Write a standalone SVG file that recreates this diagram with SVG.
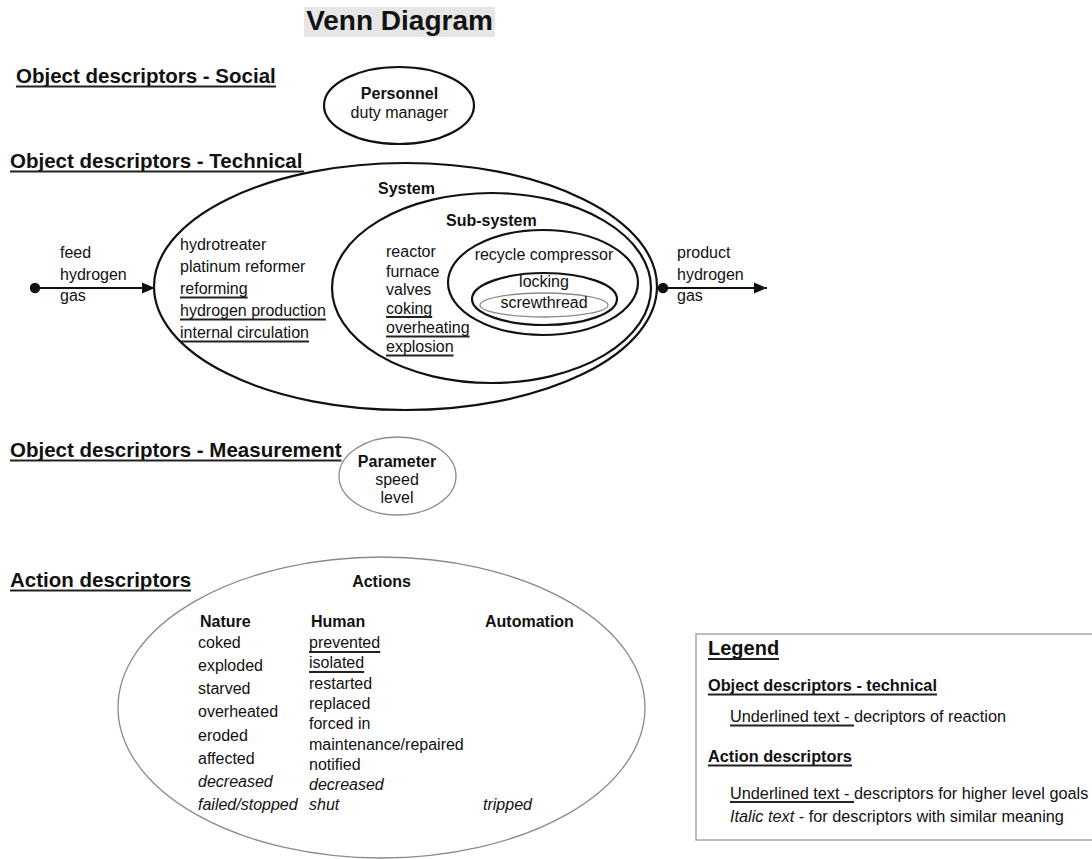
<svg xmlns="http://www.w3.org/2000/svg" width="1092" height="859" viewBox="0 0 1092 859">
<style>
text{font-family:"Liberation Sans",Arial,sans-serif;fill:#111;}
.h{font-size:20.5px;font-weight:bold;}
.b{font-size:16px;font-weight:bold;}
.t{font-size:16px;}
.i{font-size:16px;font-style:italic;}
.lg{font-size:16.3px;}
.lgb{font-size:16.3px;font-weight:bold;}
.ul{stroke:#222;stroke-width:1.8;fill:none;}
.hul{stroke:#222;stroke-width:2.2;fill:none;}
.blk{fill:none;stroke:#111;stroke-width:2.2;}
.gry{fill:none;stroke:#8a8a8a;stroke-width:1.3;}
.c{text-anchor:middle;}
.conn{stroke:#111;stroke-width:2.2;fill:none;}
</style>
<defs>
<marker id="dot" markerWidth="12" markerHeight="12" refX="6" refY="6" markerUnits="userSpaceOnUse"><circle cx="6" cy="6" r="5.2" fill="#111"/></marker>
<marker id="arrow" markerWidth="14" markerHeight="12" refX="13" refY="6" orient="auto" markerUnits="userSpaceOnUse"><path d="M0,0.5 L13,6 L0,11.5 z" fill="#111"/></marker>
</defs>
<rect width="1092" height="859" fill="#fff"/>

<g id="title">
<rect x="304" y="7" width="191" height="30" fill="#e6e6e6"/>
<text x="399.5" y="30" class="c" style="font-size:28px;font-weight:bold">Venn Diagram</text>
</g>

<g id="headings">
<text x="16" y="83" class="h">Object descriptors - Social</text>
<line x1="16" y1="86.5" x2="276" y2="86.5" class="hul"/>
<text x="10" y="168" class="h">Object descriptors - Technical</text>
<line x1="10" y1="171.5" x2="304" y2="171.5" class="hul"/>
<text x="10" y="457" class="h">Object descriptors - Measurement</text>
<line x1="10" y1="460.5" x2="341.5" y2="460.5" class="hul"/>
<text x="10" y="587" class="h">Action descriptors</text>
<line x1="10" y1="590.5" x2="191" y2="590.5" class="hul"/>
</g>

<g id="personnel">
<ellipse cx="399" cy="105.5" rx="75" ry="38.5" class="blk"/>
<text x="399.5" y="99" class="b c">Personnel</text>
<text x="399.5" y="118" class="t c">duty manager</text>
</g>

<g id="system">
<ellipse cx="405.5" cy="286.5" rx="251.5" ry="123.5" class="blk"/>
<text x="378" y="194" class="b">System</text>
<text x="180" y="250" class="t">hydrotreater</text>
<text x="180" y="272" class="t">platinum reformer</text>
<text x="180" y="294" class="t">reforming</text>
<line x1="180" y1="297.5" x2="247.6" y2="297.5" class="ul"/>
<text x="180" y="316" class="t">hydrogen production</text>
<line x1="180" y1="319.5" x2="326" y2="319.5" class="ul"/>
<text x="180" y="338" class="t">internal circulation</text>
<line x1="180" y1="341.5" x2="309" y2="341.5" class="ul"/>
</g>

<g id="subsystem">
<ellipse cx="491.5" cy="288" rx="159.5" ry="95" class="blk"/>
<text x="446" y="226" class="b">Sub-system</text>
<text x="386" y="257" class="t">reactor</text>
<text x="386" y="276.5" class="t">furnace</text>
<text x="386" y="295" class="t">valves</text>
<text x="386" y="313.5" class="t">coking</text>
<line x1="386" y1="317" x2="432.2" y2="317" class="ul"/>
<text x="386" y="333" class="t">overheating</text>
<line x1="386" y1="336.5" x2="469.6" y2="336.5" class="ul"/>
<text x="386" y="352" class="t">explosion</text>
<line x1="386" y1="355.5" x2="453.6" y2="355.5" class="ul"/>
</g>

<g id="recycle-compressor">
<ellipse cx="543" cy="282.5" rx="95" ry="52.5" class="blk"/>
<text x="544" y="260" class="t c">recycle compressor</text>
</g>

<g id="locking">
<ellipse cx="544.5" cy="299" rx="72.5" ry="26" class="blk"/>
<text x="544" y="287" class="t c">locking</text>
</g>

<g id="screwthread">
<ellipse cx="544" cy="305" rx="64" ry="12" class="gry"/>
<text x="544" y="308" class="t c">screwthread</text>
</g>

<g id="connectors">
<line x1="35" y1="288" x2="155" y2="288" class="conn" marker-start="url(#dot)" marker-end="url(#arrow)"/>
<line x1="663" y1="288" x2="767" y2="288" class="conn" marker-start="url(#dot)" marker-end="url(#arrow)"/>
</g>

<g id="input-label">
<text x="60" y="258" class="t">feed</text>
<text x="60" y="280" class="t">hydrogen</text>
<text x="60" y="301" class="t">gas</text>
</g>

<g id="output-label">
<text x="677" y="258" class="t">product</text>
<text x="677" y="280" class="t">hydrogen</text>
<text x="677" y="301" class="t">gas</text>
</g>

<g id="parameter">
<ellipse cx="397.5" cy="476" rx="58.5" ry="39" class="gry"/>
<text x="397" y="467" class="b c">Parameter</text>
<text x="397" y="485" class="t c">speed</text>
<text x="397" y="503" class="t c">level</text>
</g>

<g id="actions">
<ellipse cx="381.5" cy="707.5" rx="263.5" ry="150.5" class="gry"/>
<text x="381.5" y="587" class="b c">Actions</text>
<text x="200" y="627" class="b">Nature</text>
<text x="311" y="627" class="b">Human</text>
<text x="485" y="627" class="b">Automation</text>
<text x="198" y="648" class="t">coked</text>
<text x="198" y="671" class="t">exploded</text>
<text x="198" y="694" class="t">starved</text>
<text x="198" y="717" class="t">overheated</text>
<text x="198" y="741" class="t">eroded</text>
<text x="198" y="764" class="t">affected</text>
<text x="198" y="787" class="i">decreased</text>
<text x="198" y="810" class="i">failed/stopped</text>
<text x="309" y="648" class="t">prevented</text>
<line x1="309" y1="652" x2="380.2" y2="652" class="ul"/>
<text x="309" y="668" class="t">isolated</text>
<line x1="309" y1="672" x2="364.1" y2="672" class="ul"/>
<text x="309" y="689" class="t">restarted</text>
<text x="309" y="709" class="t">replaced</text>
<text x="309" y="729" class="t">forced in</text>
<text x="309" y="750" class="t">maintenance/repaired</text>
<text x="309" y="770" class="t">notified</text>
<text x="309" y="790" class="i">decreased</text>
<text x="309" y="810" class="i">shut</text>
<text x="483" y="810" class="i">tripped</text>
</g>

<g id="legend">
<rect x="696" y="634" width="420" height="206" fill="#fff" stroke="#9a9a9a" stroke-width="1.3"/>
<text x="708" y="655" style="font-size:20px;font-weight:bold">Legend</text>
<line x1="708" y1="659" x2="779" y2="659" class="hul"/>
<text x="708" y="691" class="lgb">Object descriptors - technical</text>
<line x1="708" y1="694.5" x2="937" y2="694.5" class="ul"/>
<text x="730" y="722" class="lg">Underlined text - decriptors of reaction</text>
<line x1="730" y1="725.5" x2="854" y2="725.5" class="ul"/>
<text x="708" y="762" class="lgb">Action descriptors</text>
<line x1="708" y1="765.5" x2="852" y2="765.5" class="ul"/>
<text x="730" y="798.5" class="lg">Underlined text - descriptors for higher level goals</text>
<line x1="730" y1="802" x2="854" y2="802" class="ul"/>
<text x="730" y="821.5" class="lg"><tspan font-style="italic">Italic text</tspan> - for descriptors with similar meaning</text>
</g>
</svg>
